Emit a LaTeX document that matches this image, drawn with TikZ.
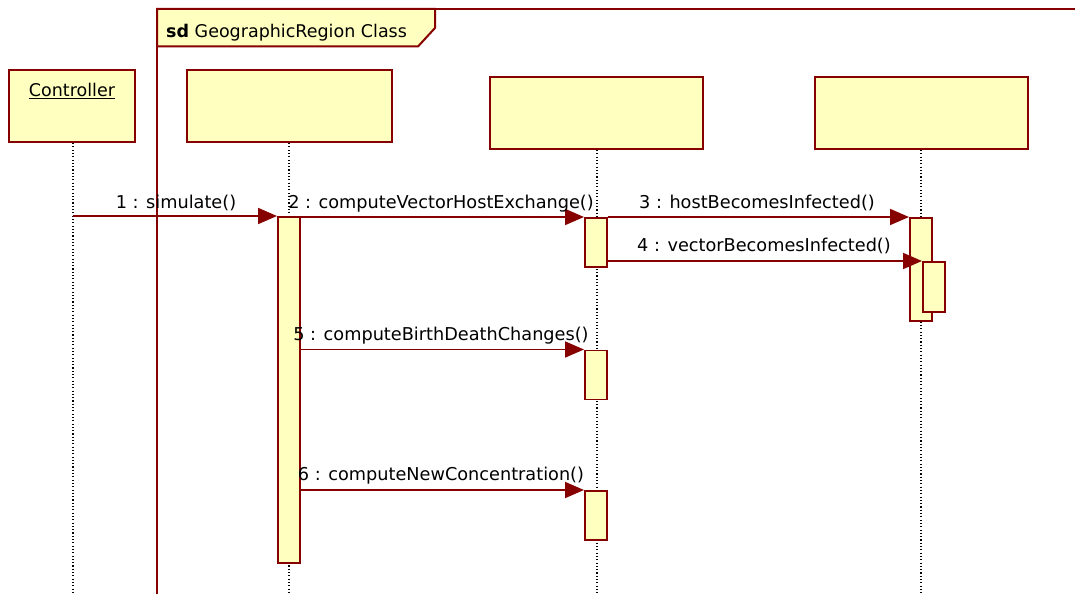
\documentclass[tikz,border=0pt]{standalone}
\usepackage{fontspec}
\setmainfont{DejaVu Sans}
\usetikzlibrary{arrows.meta}
\definecolor{umlred}{RGB}{135,0,0}
\definecolor{umlfill}{RGB}{255,255,192}
\tikzset{
  objbox/.style={draw=umlred, fill=umlfill, line width=2pt, inner sep=0pt, anchor=north west},
  actbox/.style={draw=umlred, fill=umlfill, line width=1.6pt, inner sep=0pt, anchor=north west, minimum width=22pt},
  lifeline/.style={black, line width=1.1pt, dash pattern=on 1.1pt off 2.2pt},
  msg/.style={umlred, line width=1.8pt, -{Triangle[length=19pt,width=16pt]}},
  msglabel/.style={anchor=base, inner sep=0pt, font=\fontsize{17.7}{20}\selectfont},
  framelabel/.style={font=\fontsize{17.5}{20}\selectfont}
}
\begin{document}
\begin{tikzpicture}[x=1pt,y=-1pt]
\useasboundingbox (0,0) rectangle (1075,594);

% interaction frame
\draw[umlred, line width=2pt] (157,594) -- (157,9) -- (1080,9);
\filldraw[draw=umlred, fill=umlfill, line width=2pt]
  (157,9) -- (435,9) -- (435,28) -- (418,46.5) -- (157,46.5) -- cycle;
\node[framelabel, anchor=base west, inner sep=0pt] (sdlabel) at (166,37.5)
  {\textbf{sd} GeographicRegion Class};

% lifeline heads
\node[objbox, minimum width=126pt, minimum height=72pt] (ctrl) at (8,69) {};
\node[framelabel, anchor=base, inner sep=0pt] (ctrltext) at (72,96.5) {\underline{Controller}};
\node[objbox, minimum width=205pt, minimum height=72pt] (geo) at (186,69) {};
\node[objbox, minimum width=213pt, minimum height=72pt] (objC) at (489,76) {};
\node[objbox, minimum width=213pt, minimum height=72pt] (objD) at (814,76) {};

% lifelines
\coordinate (ctrlend) at (73,594);
\coordinate (geoend) at (289,594);
\coordinate (objCend) at (597,594);
\coordinate (objDend) at (921,594);
\draw[lifeline] (ctrl.south -| ctrlend) -- (ctrlend);
\draw[lifeline] (geo.south -| geoend) -- (geoend);
\draw[lifeline] (objC.south -| objCend) -- (objCend);
\draw[lifeline] (objD.south -| objDend) -- (objDend);

% activation bars
\node[actbox, minimum height=346pt] (actG) at (277,216) {};
\node[actbox, minimum height=49pt] (actC1) at (584,217) {};
\node[actbox, minimum height=49pt] (actC2) at (584,349.5) {};
\node[actbox, minimum height=49pt] (actC3) at (584,490) {};
\node[actbox, minimum height=103pt] (actD1) at (909,217) {};
\node[actbox, minimum height=50pt] (actD2) at (922,261) {};

% messages
\coordinate (ctrlmsg) at (73,216);
\draw[msg] (ctrlmsg) -- (actG.north west);
\draw[msg] (actG.east |- actC1.north west) -- (actC1.north west);
\draw[msg] (actC1.north east) -- (actD1.north west);
\draw[msg] (actC1.east |- actD2.north west) -- (actD2.north west);
\draw[msg] (actG.east |- actC2.north west) -- (actC2.north west);
\draw[msg] (actG.east |- actC3.north west) -- (actC3.north west);

% message labels
\node[msglabel] (m1) at (176,208) {1 : simulate()};
\node[msglabel] (m2) at (441,208) {2 : computeVectorHostExchange()};
\node[msglabel] (m3) at (757,208) {3 : hostBecomesInfected()};
\node[msglabel] (m4) at (764,251.5) {4 : vectorBecomesInfected()};
\node[msglabel] (m5) at (441,340.5) {5 : computeBirthDeathChanges()};
\node[msglabel] (m6) at (441,480.5) {6 : computeNewConcentration()};
\end{tikzpicture}
\end{document}
